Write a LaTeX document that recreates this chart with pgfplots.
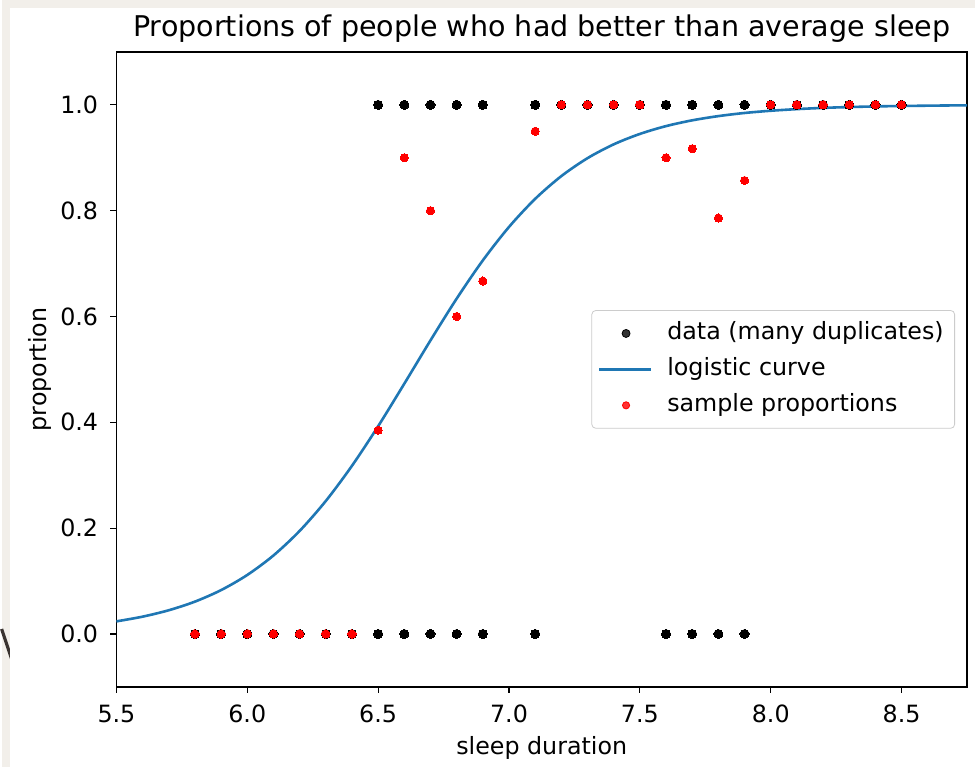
\documentclass[border=0pt]{standalone}
\usepackage{pgfplots}
\pgfplotsset{compat=1.18}
\usepackage{fontspec}
\setmainfont{DejaVu Sans}
\definecolor{bgbeige}{HTML}{F2EFEA}
\definecolor{mplblue}{HTML}{1F77B4}
\definecolor{decoline}{HTML}{3A3330}
\definecolor{legedge}{HTML}{CCCCCC}
\begin{document}
\begin{tikzpicture}
\fill[bgbeige] (0,0) rectangle (487.5pt,384pt);
\draw[decoline, line width=1.6pt] (0,69pt) -- (5pt,54pt);
\fill[white] (4pt,0) rectangle (487.5pt,380pt);
\begin{axis}[
  at={(57.5pt,40pt)}, anchor=south west,
  scale only axis, width=426pt, height=318pt,
  xmin=5.5, xmax=8.75, ymin=-0.1, ymax=1.1,
  xtick={5.5,6.0,6.5,7.0,7.5,8.0,8.5},
  ytick={0,0.2,0.4,0.6,0.8,1.0},
  tick align=outside, xtick pos=bottom, ytick pos=left,
  major tick length=3pt,
  tick style={black, line width=0.6pt},
  axis line style={black, line width=0.7pt},
  /pgf/number format/assume math mode=true,
  /pgf/number format/.cd, fixed, fixed zerofill, precision=1, /pgfplots/.cd,
  tick label style={font=\fontsize{11.9}{14}\selectfont},
  xticklabel style={anchor=base, yshift=-15pt, inner sep=0pt},
  yticklabel style={anchor=east, xshift=-6pt, inner sep=0pt},
  title={Proportions of people who had better than average sleep},
  title style={font=\fontsize{14.3}{17}\selectfont, at={(axis description cs:0.5,1)}, anchor=base, yshift=1.5pt, inner sep=0pt},
  xlabel={sleep duration},
  xlabel style={font=\fontsize{11.9}{14}\selectfont, at={(axis description cs:0.5,0)}, anchor=base, yshift=-34pt, inner sep=0pt},
  ylabel={proportion},
  ylabel style={font=\fontsize{11.9}{14}\selectfont, at={(axis description cs:-0.0904,0.5)}, anchor=center, inner sep=0pt},
  legend style={at={(axis description cs:1,0.5)}, anchor=east, xshift=-6pt,
    draw=legedge, rounded corners=2pt, fill=white, fill opacity=0.8, text opacity=1,
    font=\fontsize{11.9}{14}\selectfont, inner xsep=3pt, inner ysep=3pt,
    row sep=1pt, nodes={inner sep=2.5pt, anchor=west, text height=9pt, text depth=3pt}},
  legend cell align=left,
]
\addplot[only marks, mark=*, mark size=2.3pt, mark options={draw=black, fill=black, line width=0pt},
  legend image code/.code={\fill[black] (13.5pt,0pt) circle (2pt); \path (31pt,0pt);}]
coordinates {
(6.5,1)(6.6,1)(6.7,1)(6.8,1)(6.9,1)(7.1,1)(7.2,1)(7.3,1)(7.4,1)(7.5,1)
(7.6,1)(7.7,1)(7.8,1)(7.9,1)(8.0,1)(8.1,1)(8.2,1)(8.3,1)(8.4,1)(8.5,1)
(5.8,0)(5.9,0)(6.0,0)(6.1,0)(6.2,0)(6.3,0)(6.4,0)(6.5,0)(6.6,0)(6.7,0)
(6.8,0)(6.9,0)(7.1,0)(7.6,0)(7.7,0)(7.8,0)(7.9,0)
};
\addlegendentry{data (many duplicates)}
\addplot[mplblue, line width=1.3pt, smooth,
  legend image code/.code={\draw[mplblue, line width=1.3pt] (0pt,0pt) -- (26pt,0pt); \path (31pt,0pt);}]
coordinates {
(5.5,0.0238)(5.6,0.0327)(5.7,0.0448)(5.8,0.0611)(5.9,0.0829)(6.0,0.1115)
(6.1,0.1483)(6.2,0.1947)(6.3,0.2513)(6.4,0.3178)(6.5,0.3926)(6.6,0.4730)
(6.7,0.5548)(6.8,0.6337)(6.9,0.7060)(7.0,0.7692)(7.1,0.8223)(7.2,0.8653)
(7.3,0.8992)(7.4,0.9253)(7.5,0.9450)(7.6,0.9598)(7.7,0.9707)(7.8,0.9787)
(7.9,0.9846)(8.0,0.9888)(8.1,0.9919)(8.2,0.9942)(8.3,0.9958)(8.4,0.9970)
(8.5,0.9978)(8.6,0.9984)(8.7,0.9989)(8.75,0.9990)
};
\addlegendentry{logistic curve}
\addplot[only marks, mark=*, mark size=2.05pt, mark options={draw=red, fill=red, line width=0pt},
  legend image code/.code={\fill[red] (13.5pt,0pt) circle (1.8pt); \path (31pt,0pt);}]
coordinates {
(5.8,0)(5.9,0)(6.0,0)(6.1,0)(6.2,0)(6.3,0)(6.4,0)
(6.5,0.385)(6.6,0.9)(6.7,0.8)(6.8,0.6)(6.9,0.667)(7.1,0.95)
(7.2,1)(7.3,1)(7.4,1)(7.5,1)(7.6,0.9)(7.7,0.917)(7.8,0.786)(7.9,0.857)
(8.0,1)(8.1,1)(8.2,1)(8.3,1)(8.4,1)(8.5,1)
};
\addlegendentry{sample proportions}
\end{axis}
\end{tikzpicture}
\end{document}
